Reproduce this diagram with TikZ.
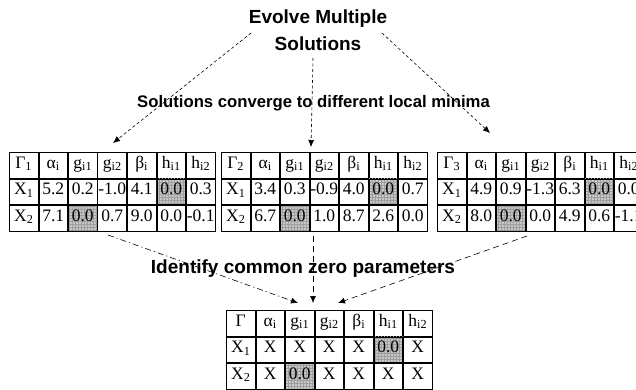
\documentclass[tikz,border=0pt]{standalone}
\usepackage{fontspec}
\setmainfont{Liberation Serif}
\newfontfamily\labelfont{Liberation Sans}
\usetikzlibrary{matrix,patterns,arrows.meta}

\begin{document}
\begin{tikzpicture}[x=1pt,y=-1pt,
  cell/.style={draw, line width=0.8pt, minimum width=28.7pt, minimum height=25.7pt,
    inner sep=0pt, outer sep=0pt, text height=11pt, text depth=5.3pt,
    font=\fontsize{17.5}{19}\selectfont},
  tbl/.style={matrix of nodes, anchor=north west, inner sep=0pt, outer sep=0pt,
    column sep=0pt, row sep=0pt, nodes={cell}},
  zero/.style={preaction={fill=gray!45}, pattern=grid, pattern color=gray!75},
  title/.style={font=\labelfont\bfseries\fontsize{19}{27}\selectfont, inner sep=0pt},
  note/.style={font=\labelfont\bfseries\fontsize{16.7}{20}\selectfont, inner sep=0pt},
  tip/.style={-{Latex[length=7pt,width=6pt]}},
  fine/.style={tip, line width=0.6pt, dash pattern=on 3pt off 2.5pt},
  coarse/.style={tip, line width=0.6pt, dash pattern=on 6pt off 4pt},
  dashdot/.style={tip, line width=0.6pt, dash pattern=on 6pt off 3pt on 1.2pt off 3pt},
]
\useasboundingbox (0,0) rectangle (636,389);

% headings
\node[title, align=center, anchor=north] (evolve) at (318,10) {Evolve Multiple\\Solutions};
\node[note, anchor=base] (converge) at (313.5,107) {Solutions converge to different local minima};
\node[title, anchor=base] (identify) at (303,273) {Identify common zero parameters};

% the three converged solutions
\matrix (t1) [tbl] at (9,152) {
  Γ\textsubscript{1} & α\textsubscript{i} & g\textsubscript{i1} & g\textsubscript{i2} & β\textsubscript{i} & h\textsubscript{i1} & h\textsubscript{i2} \\
  X\textsubscript{1} & 5.2 & 0.2 & -1.0 & 4.1 & |[zero]| 0.0 & 0.3 \\
  X\textsubscript{2} & 7.1 & |[zero]| 0.0 & 0.7 & 9.0 & 0.0 & -0.1 \\
};
\matrix (t2) [tbl] at (221,152) {
  Γ\textsubscript{2} & α\textsubscript{i} & g\textsubscript{i1} & g\textsubscript{i2} & β\textsubscript{i} & h\textsubscript{i1} & h\textsubscript{i2} \\
  X\textsubscript{1} & 3.4 & 0.3 & -0.9 & 4.0 & |[zero]| 0.0 & 0.7 \\
  X\textsubscript{2} & 6.7 & |[zero]| 0.0 & 1.0 & 8.7 & 2.6 & 0.0 \\
};
\matrix (t3) [tbl] at (437,152) {
  Γ\textsubscript{3} & α\textsubscript{i} & g\textsubscript{i1} & g\textsubscript{i2} & β\textsubscript{i} & h\textsubscript{i1} & h\textsubscript{i2} \\
  X\textsubscript{1} & 4.9 & 0.9 & -1.3 & 6.3 & |[zero]| 0.0 & 0.0 \\
  X\textsubscript{2} & 8.0 & |[zero]| 0.0 & 0.0 & 4.9 & 0.6 & -1.1 \\
};

% common zero pattern
\matrix (t4) [tbl] at (226,310) {
  Γ & α\textsubscript{i} & g\textsubscript{i1} & g\textsubscript{i2} & β\textsubscript{i} & h\textsubscript{i1} & h\textsubscript{i2} \\
  X\textsubscript{1} & X & X & X & X & |[zero]| 0.0 & X \\
  X\textsubscript{2} & X & |[zero]| 0.0 & X & X & X & X \\
};

% connector end points
\coordinate (s1) at (251,33);
\coordinate (e1) at (113,143);
\coordinate (s2) at (313,58);
\coordinate (e2) at (311,147);
\coordinate (s3) at (382,33);
\coordinate (e3) at (490,133);
\coordinate (u1) at (108,235);
\coordinate (u2) at (313,236);
\coordinate (u3) at (527,236);
\coordinate (d1) at (298,303);
\coordinate (d2) at (313,303);
\coordinate (d3) at (338,303);

\draw[fine] (s1) -- (e1);
\draw[fine] (s2) -- (e2);
\draw[fine] (s3) -- (e3);
\draw[dashdot] (u1) -- (d1);
\draw[coarse] (u2) -- (d2);
\draw[coarse] (u3) -- (d3);
\end{tikzpicture}
\end{document}
